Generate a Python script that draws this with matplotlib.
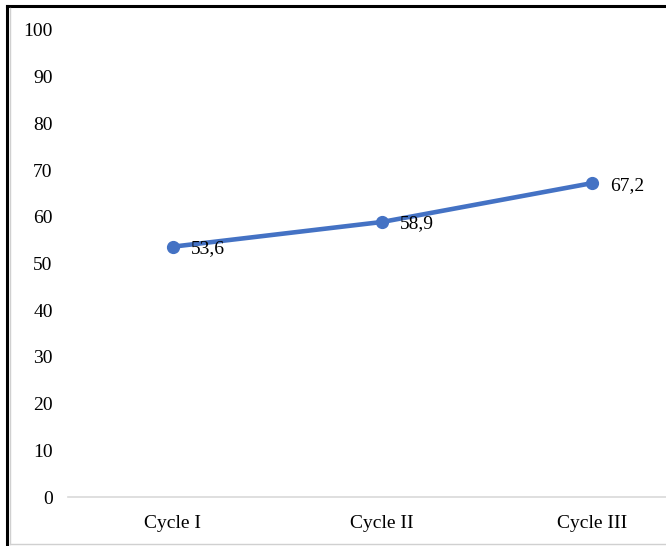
import matplotlib.pyplot as plt
from matplotlib.lines import Line2D

cycles = ["Cycle I", "Cycle II", "Cycle III"]
scores = [53.6, 58.9, 67.2]
score_labels = ["53,6", "58,9", "67,2"]
y_ticks = [0, 10, 20, 30, 40, 50, 60, 70, 80, 90, 100]

plt.rcParams["font.family"] = ["Liberation Serif", "DejaVu Serif"]

fig = plt.figure(figsize=(6.66, 5.46), dpi=100)
ax = fig.add_axes([68 / 666, 49 / 546, 628.5 / 666, 467 / 546])

x = list(range(len(cycles)))
ax.plot(x, scores, color="#4472C4", linewidth=3.3, marker="o", markersize=8.5,
        solid_capstyle="round")
for xi, yi, lab in zip(x, scores, score_labels):
    ax.annotate(lab, (xi, yi), xytext=(13, -1.5), textcoords="offset points",
                ha="left", va="center", fontsize=14, color="black")

ax.set_xlim(-0.5, len(cycles) - 0.5)
ax.set_ylim(0, 100)
ax.set_xticks(x)
ax.set_xticklabels(cycles, fontsize=14)
ax.set_yticks(y_ticks)
ax.set_yticklabels([str(t) for t in y_ticks], fontsize=14)
ax.tick_params(axis="both", length=0)
ax.tick_params(axis="y", pad=11)
ax.tick_params(axis="x", pad=13)

for side in ["top", "right", "left"]:
    ax.spines[side].set_visible(False)
ax.spines["bottom"].set_color("#d9d9d9")
ax.spines["bottom"].set_linewidth(1.2)

# outer frame of the chart area
H = 546.0
W = 666.0
fig.add_artist(Line2D([7 / W, 7 / W], [0, 1 - 6 / H], color="black", linewidth=2.2,
                      transform=fig.transFigure))
fig.add_artist(Line2D([7 / W, 1], [1 - 6 / H, 1 - 6 / H], color="black", linewidth=2.2,
                      transform=fig.transFigure))
fig.add_artist(Line2D([9.5 / W, 9.5 / W], [2 / H, 1 - 8 / H], color="#d0d0d0", linewidth=1,
                      transform=fig.transFigure))
fig.add_artist(Line2D([9.5 / W, 1], [2 / H, 2 / H], color="#d0d0d0", linewidth=1,
                      transform=fig.transFigure))

fig.savefig("out.png", dpi=100)
